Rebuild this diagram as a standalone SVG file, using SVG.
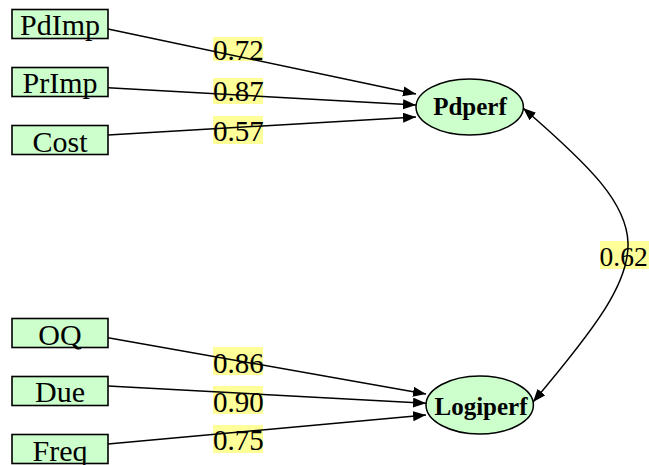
<svg xmlns="http://www.w3.org/2000/svg" width="649" height="465" viewBox="0 0 649 465">
  <style>
    .box { fill: #ccffcc; stroke: #000; stroke-width: 1.6; }
    .oval { fill: #ccffcc; stroke: #000; stroke-width: 1.5; }
    .name { font-family: "Liberation Serif", "Times New Roman", serif; font-size: 30px; fill: #000; text-anchor: middle; }
    .latent { font-family: "Liberation Serif", "Times New Roman", serif; font-size: 25px; font-weight: bold; fill: #000; text-anchor: middle; }
    .coef-bg { fill: #ffff99; }
    .coef { font-family: "Liberation Serif", "Times New Roman", serif; font-size: 29px; fill: #000; }
    .edge { fill: none; stroke: #000; stroke-width: 1.5; }
  </style>
  <defs>
    <marker id="head" markerUnits="userSpaceOnUse" markerWidth="14" markerHeight="11" refX="13" refY="5" orient="auto-start-reverse">
      <path d="M0,0 L13,5 L0,10 z" fill="#000"/>
    </marker>
  </defs>

  <rect width="649" height="465" fill="#fff"/>

  <!-- path coefficients -->
  <g id="coefficients">
    <rect class="coef-bg" x="213" y="37" width="50" height="24"/>
    <text class="coef" x="213" y="59.5">0.72</text>
    <rect class="coef-bg" x="213" y="78" width="50" height="26"/>
    <text class="coef" x="213" y="100.5">0.87</text>
    <rect class="coef-bg" x="213" y="116" width="50" height="28"/>
    <text class="coef" x="213" y="140.5">0.57</text>
    <rect class="coef-bg" x="213" y="347" width="50" height="28"/>
    <text class="coef" x="213" y="372.5">0.86</text>
    <rect class="coef-bg" x="213" y="386" width="50" height="28"/>
    <text class="coef" x="213" y="411.5">0.90</text>
    <rect class="coef-bg" x="213" y="425" width="50" height="28"/>
    <text class="coef" x="213" y="450">0.75</text>
    <rect class="coef-bg" x="600" y="241" width="49" height="28"/>
    <text class="coef" x="599.5" y="266" style="font-size:27.5px">0.62</text>
  </g>

  <!-- connectors -->
  <g id="connectors">
    <line class="edge" x1="108" y1="29" x2="416" y2="94" marker-end="url(#head)"/>
    <line class="edge" x1="108" y1="87.7" x2="416" y2="105" marker-end="url(#head)"/>
    <line class="edge" x1="108" y1="135" x2="416" y2="117" marker-end="url(#head)"/>
    <line class="edge" x1="108" y1="337.7" x2="426" y2="394" marker-end="url(#head)"/>
    <line class="edge" x1="108" y1="386" x2="426" y2="403.3" marker-end="url(#head)"/>
    <line class="edge" x1="108" y1="444" x2="426" y2="415" marker-end="url(#head)"/>
    <path class="edge" d="M523,108 C661.6,227.8 661.1,250.2 533,402" marker-start="url(#head)" marker-end="url(#head)"/>
  </g>

  <!-- observed indicators -->
  <g id="PdImp">
    <rect class="box" x="12" y="9.5" width="96" height="29"/>
    <text class="name" x="60" y="35">PdImp</text>
  </g>
  <g id="PrImp">
    <rect class="box" x="12" y="67.5" width="96" height="29"/>
    <text class="name" x="60" y="93.3">PrImp</text>
  </g>
  <g id="Cost">
    <rect class="box" x="12" y="125.5" width="96" height="29"/>
    <text class="name" x="60" y="151.5">Cost</text>
  </g>
  <g id="OQ">
    <rect class="box" x="12" y="318.5" width="96" height="29"/>
    <text class="name" x="60" y="345">OQ</text>
  </g>
  <g id="Due">
    <rect class="box" x="12" y="376.5" width="96" height="29"/>
    <text class="name" x="60" y="401.7">Due</text>
  </g>
  <g id="Freq">
    <rect class="box" x="12" y="434.5" width="96" height="29"/>
    <text class="name" x="60" y="460.5">Freq</text>
  </g>

  <!-- latent constructs -->
  <g id="Pdperf">
    <ellipse class="oval" cx="469.7" cy="107" rx="53.7" ry="28"/>
    <text class="latent" x="470" y="115">Pdperf</text>
  </g>
  <g id="Logiperf">
    <ellipse class="oval" cx="479.7" cy="405" rx="53.7" ry="29"/>
    <text class="latent" x="481" y="415">Logiperf</text>
  </g>
</svg>
